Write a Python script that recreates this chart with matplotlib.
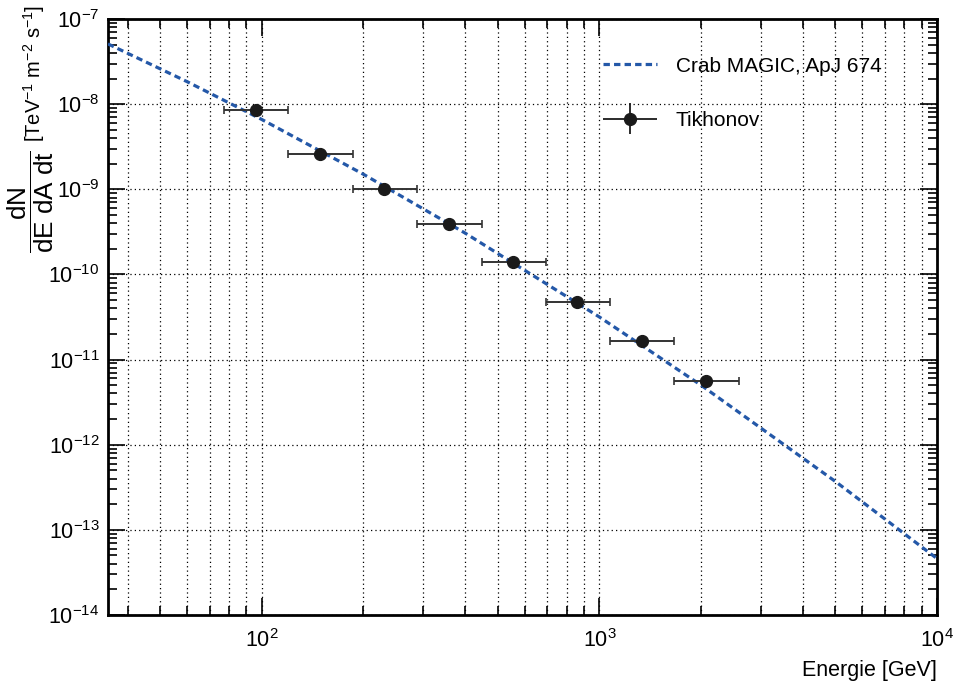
import numpy as np
import matplotlib
matplotlib.use("Agg")
import matplotlib.pyplot as plt
from matplotlib.ticker import LogLocator, NullFormatter
from matplotlib.legend_handler import HandlerErrorbar

plt.rcParams['font.family'] = ['Liberation Sans', 'DejaVu Sans']
plt.rcParams['mathtext.fontset'] = 'custom'
plt.rcParams['mathtext.rm'] = 'Liberation Sans'
plt.rcParams['mathtext.it'] = 'Liberation Sans:italic'
plt.rcParams['mathtext.bf'] = 'Liberation Sans:bold'
plt.rcParams['axes.unicode_minus'] = False

# Tikhonov points (GeV, flux)
energy = [96, 148.5, 230, 358, 554, 857, 1333, 2069]
e_low = [77.2, 119.4, 185.7, 288.5, 447.8, 694.2, 1074, 1665]
e_high = [119.4, 185.7, 288.5, 447.8, 694.2, 1074, 1665, 2590]
flux = [8.6e-9, 2.6e-9, 1.01e-9, 3.9e-10, 1.39e-10, 4.8e-11, 1.65e-11, 5.6e-12]

# Crab MAGIC curve
crab_e = [35, 60, 100, 200, 400, 1000, 2000, 5000, 10000]
crab_flux = [5.1e-8, 1.84e-8, 6.6e-9, 1.5e-9, 3.06e-10, 3.16e-11, 5.0e-12, 3.7e-13, 4.6e-14]

fig = plt.figure(figsize=(9.58, 6.84), dpi=100)
ax = fig.add_axes([0.1127, 0.1009, 0.8654, 0.8713])
ax.set_xscale('log')
ax.set_yscale('log')
ax.set_xlim(35, 1e4)
ax.set_ylim(1e-14, 1e-7)

ax.plot(crab_e, crab_flux, color='#2458a8', lw=2.3, dashes=(2.0, 1.3),
        label='Crab MAGIC, ApJ 674', zorder=3)

xerr = [np.array(energy) - np.array(e_low), np.array(e_high) - np.array(energy)]
ax.errorbar(energy, flux, xerr=xerr, fmt='o', color='#1a1a1a', ms=8.5,
            ecolor='#333333', elinewidth=1.4, capsize=3, capthick=1.2, zorder=4)
# legend proxy (ROOT style marker with bars, no caps)
tik = ax.errorbar([np.nan], [np.nan], xerr=[1], yerr=[1], fmt='o', color='#1a1a1a',
                  ms=8.5, ecolor='#1a1a1a', elinewidth=1.3, label='Tikhonov')

ax.grid(True, which='major', axis='both', color='black', ls=(0, (1, 2.5)), lw=0.9)
ax.grid(True, which='minor', axis='x', color='black', ls=(0, (1, 2.5)), lw=0.9)

ax.xaxis.set_major_locator(LogLocator(base=10, numticks=10))
ax.xaxis.set_minor_locator(LogLocator(base=10, subs=np.arange(2, 10), numticks=20))
ax.yaxis.set_major_locator(LogLocator(base=10, numticks=20))
ax.yaxis.set_minor_locator(LogLocator(base=10, subs=np.arange(2, 10), numticks=40))
ax.xaxis.set_minor_formatter(NullFormatter())
ax.yaxis.set_minor_formatter(NullFormatter())

ax.tick_params(which='both', direction='in', top=True, right=True, width=1.2, labelsize=15.5)
ax.tick_params(which='major', length=12)
ax.tick_params(which='minor', length=6.5)
ax.tick_params(axis='x', pad=10)
ax.tick_params(axis='y', pad=6)
for s in ax.spines.values():
    s.set_linewidth(2.0)

ax.set_xlabel('Energie [GeV]', fontsize=15.5, loc='right', labelpad=6)
# y title: big fraction plus units, ROOT style at the top
fig.text(0.0355, 0.9927, r'[TeV$^{-1}$ m$^{-2}$ s$^{-1}$]', rotation=90,
         ha='center', va='top', fontsize=14.5)
fig.text(0.0324, 0.7046, r'$\dfrac{\mathrm{dN}}{\mathrm{dE\ dA\ dt}}$', rotation=90,
         ha='center', va='center', fontsize=18.8)

handles, labels = ax.get_legend_handles_labels()
leg = ax.legend(handles, labels, loc='upper left', bbox_to_anchor=(0.597, 0.937),
                frameon=False, fontsize=15, handlelength=2.6, handletextpad=0.9,
                labelspacing=1.7, borderpad=0, borderaxespad=0,
                handler_map={type(tik): HandlerErrorbar(xerr_size=1.3, yerr_size=0.75)})

fig.savefig('out.png', dpi=100)
